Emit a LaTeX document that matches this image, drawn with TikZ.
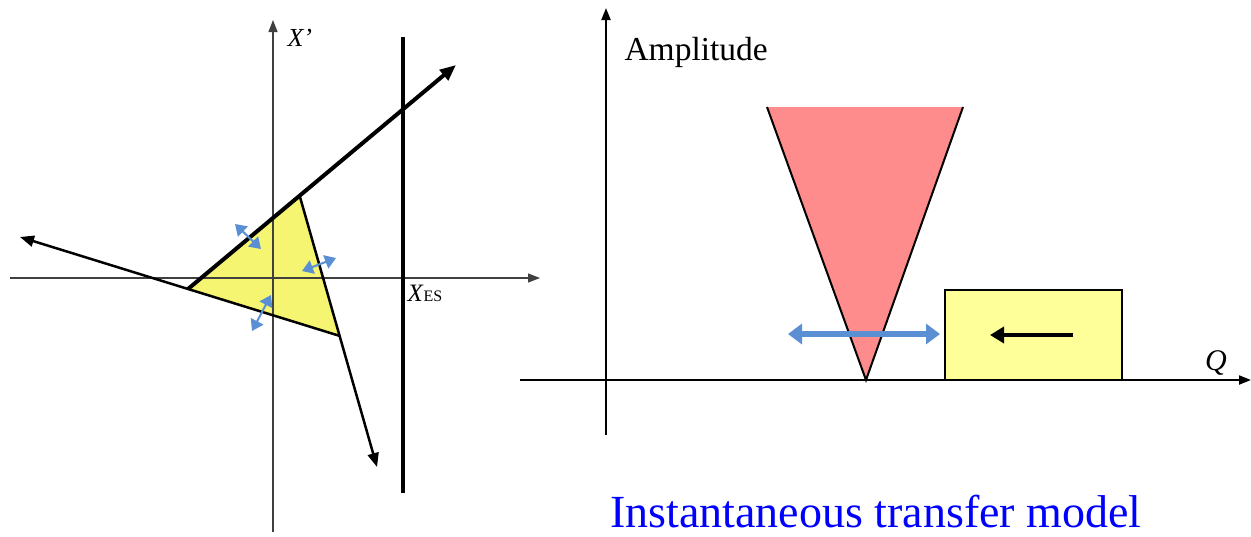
\documentclass[tikz,border=0pt]{standalone}
\usepackage{fontspec}
\setmainfont{Liberation Serif}
\usetikzlibrary{arrows.meta}
\definecolor{triyel}{HTML}{F5F572}
\definecolor{boxyel}{HTML}{FFFF99}
\definecolor{conered}{HTML}{FF8C8C}
\definecolor{arrblue}{HTML}{5B8FD4}
\tikzset{
  axis/.style={line width=1.2pt,-{Triangle[length=12pt,width=9pt]}},
  thickln/.style={line width=4pt},
  medln/.style={line width=2.5pt,-{Triangle[length=14pt,width=11pt]}},
  smallblue/.style={arrblue,line width=2pt,{Triangle[length=11pt,width=14pt]}-{Triangle[length=11pt,width=14pt]}},
  bigblue/.style={arrblue,line width=6pt,{Triangle[length=14pt,width=20pt]}-{Triangle[length=14pt,width=20pt]}},
}
\begin{document}
\begin{tikzpicture}[x=1pt,y=-1pt]
\useasboundingbox (0,0) rectangle (1251,536);
% ---------- left diagram ----------
\coordinate (A) at (188,289);
\coordinate (B) at (300,197);
\coordinate (C) at (340,336);
\fill[triyel] (A) -- (B) -- (C) -- cycle;
\draw[axis,black!75] (10,278) coordinate (xl) -- (540,278) coordinate (xr);
\draw[axis,black!75] (273,532) coordinate (yb) -- (273,20) coordinate (yt);
\node[anchor=west,font=\fontsize{26}{28}\selectfont\itshape] (xp) at (284,38) {X'};
\draw[line width=4pt] (403,37) coordinate (vt) -- (403,493) coordinate (vb);
\node[anchor=north west,font=\fontsize{25}{27}\selectfont] (xes) at (404,282) {\textit{X}\fontsize{16}{18}\selectfont ES};
\draw[thickln,-{Triangle[length=16pt,width=13pt]}] (A) -- (456,65) coordinate (tp);
\draw[medln] (C) -- (20,237) coordinate (lp);
\draw[medln] (B) -- (377,467) coordinate (bp);
\draw[smallblue] (235,224) -- (261,249);
\draw[smallblue] (302,271) -- (336,258);
\draw[smallblue] (252,331) -- (271,295);
% ---------- right diagram ----------
\draw[axis,black,line width=2pt] (606,435) coordinate (ab) -- (606,8) coordinate (at);
\draw[axis,black,line width=2pt] (520,380) coordinate (ql) -- (1251,380) coordinate (qr);
\node[anchor=base west,font=\fontsize{33.5}{36}\selectfont] (amp) at (621,60) {Amplitude};
\node[anchor=base,font=\fontsize{30}{32}\selectfont\itshape] (q) at (1216,370) {Q};
\fill[conered] (767,107) coordinate (c1) -- (963,107) coordinate (c2) -- (866,380) coordinate (c3) -- cycle;
\draw[line width=2pt] (c1) -- (c3) -- (c2);
\draw[bigblue] (788,334) -- (940,334);
\node[draw,line width=2pt,fill=boxyel,minimum width=177pt,minimum height=90pt,inner sep=0pt] (box) at (1033.5,335) {};
\draw[line width=4pt,-{Triangle[length=14pt,width=16pt]}] (1073,335) -- (990,335);
\node[anchor=base,text=blue,font=\fontsize{46}{50}\selectfont] (title) at (876,527) {Instantaneous transfer model};
\end{tikzpicture}
\end{document}
